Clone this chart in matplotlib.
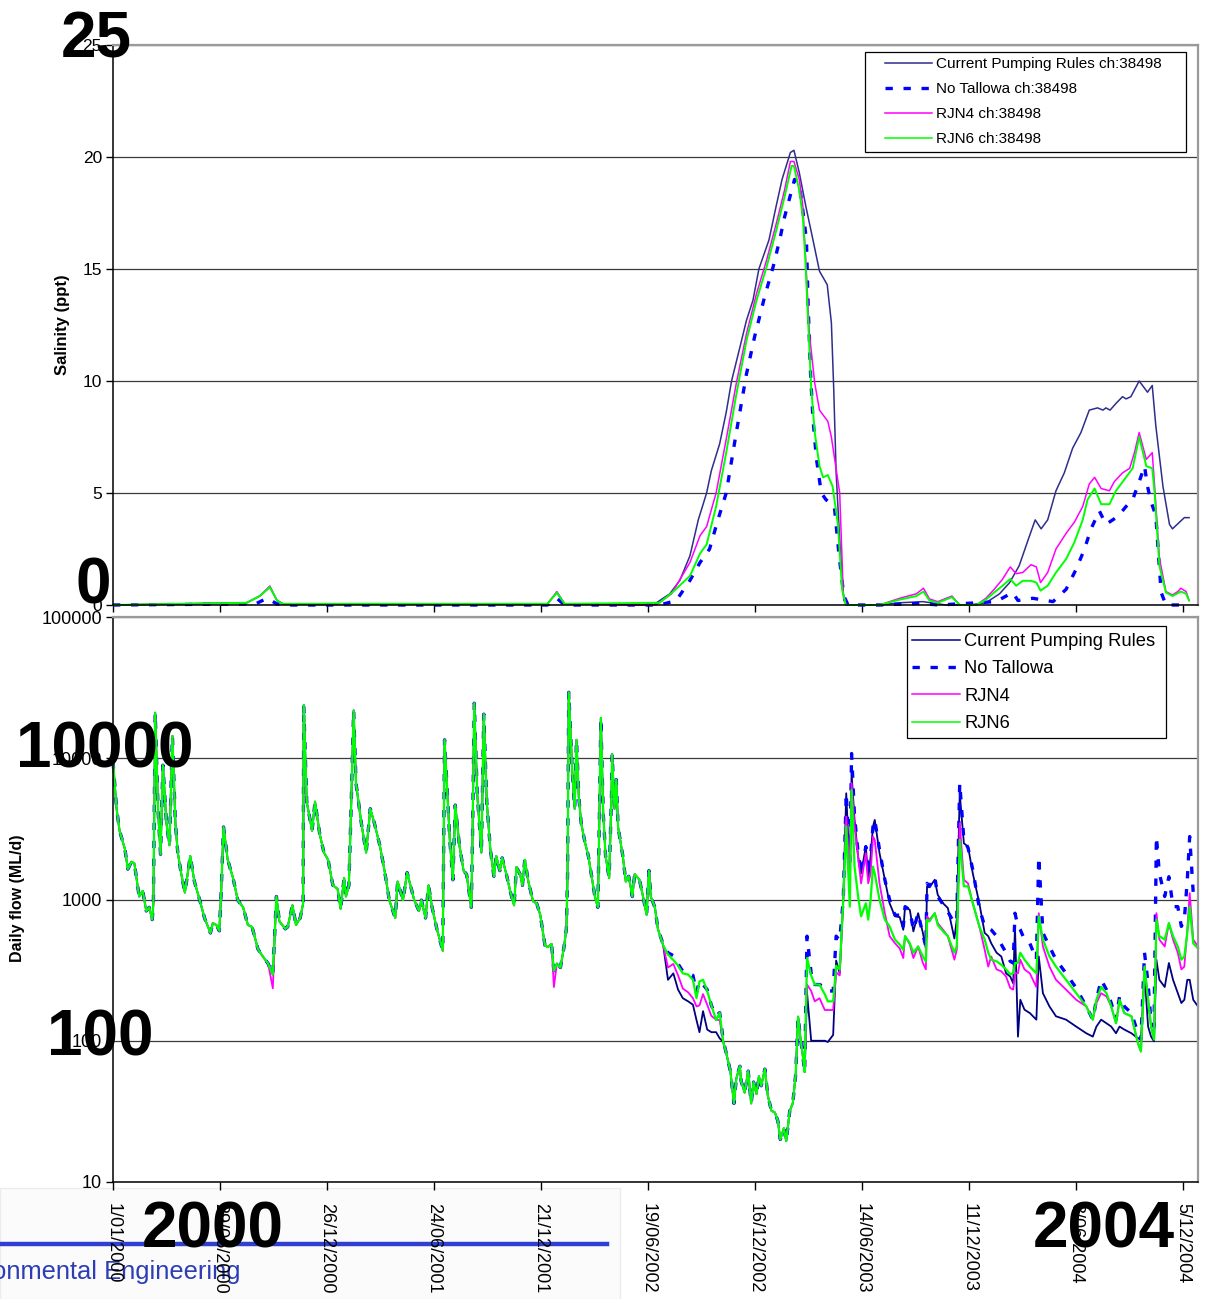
import numpy as np
import matplotlib
matplotlib.use("Agg")
import matplotlib.pyplot as plt
from matplotlib.lines import Line2D
from matplotlib.patches import Rectangle

plt.rcParams["font.family"] = ["Liberation Sans", "DejaVu Sans"]

W, H, DPI = 1208, 1299, 100

# ---- x axis (days since 1/01/2000) ----
tick_labels = ["1/01/2000", "29/06/2000", "26/12/2000", "24/06/2001", "21/12/2001",
               "19/06/2002", "16/12/2002", "14/06/2003", "11/12/2003", "8/06/2004",
               "5/12/2004"]

# ---- salinity (ppt) at ch:38498 ----
sal_days_cur = [0, 225, 247, 264, 276, 286, 731, 747, 760, 909, 937, 954, 971, 985, 999,
                1007, 1021, 1032, 1041, 1055, 1066, 1077, 1087, 1104, 1116, 1126, 1140,
                1146, 1155, 1166, 1178, 1189, 1202, 1209, 1213, 1217, 1223, 1230, 1237,
                1290, 1324, 1363, 1402, 1441, 1469, 1492, 1509, 1525, 1540, 1552, 1562,
                1573, 1587, 1601, 1615, 1629, 1643, 1657, 1666, 1671, 1678, 1688, 1699,
                1705, 1713, 1727, 1741, 1749, 1755, 1767, 1778, 1783, 1795, 1803, 1811]
sal_cur = [0, 0.1, 0.4, 0.8, 0.2, 0.05, 0.05, 0.55, 0.05, 0, 0.5, 1.1, 2.2, 3.8, 5.0,
           6.0, 7.2, 8.6, 10.0, 11.5, 12.7, 13.6, 15.0, 16.3, 17.8, 19.0, 20.2,
           20.3, 19.3, 17.8, 16.3, 14.9, 14.3, 12.6, 9.6, 5.9, 2.9, 0.2, 0,
           0, 0.1, 0.15, 0, 0, 0.1, 0.5, 1.0, 1.75, 2.9, 3.8, 3.4,
           3.8, 5.1, 5.9, 7.0, 7.7, 8.7, 8.8, 8.7, 8.8, 8.7, 9.0, 9.3,
           9.2, 9.3, 10.0, 9.5, 9.8, 8.0, 5.3, 3.6, 3.4, 3.7, 3.9, 3.9]

sal_days_not = [0, 240, 259, 276, 290, 731, 747, 760, 920, 948, 971, 988, 1004, 1018,
                1032, 1049, 1066, 1080, 1097, 1111, 1122, 1130, 1139, 1147, 1155, 1161,
                1167, 1170, 1174, 1178, 1184, 1192, 1200, 1214, 1222, 1230, 1237,
                1290, 1357, 1391, 1486, 1514, 1523, 1548, 1582, 1604, 1621, 1635, 1646,
                1660, 1671, 1691, 1705, 1716, 1727, 1736, 1741, 1747, 1755, 1760, 1764,
                1772, 1800]
sal_not = [0, 0.05, 0.3, 0.05, 0, 0, 0.3, 0, 0, 0.2, 1.1, 1.9, 2.5, 3.8,
           5.0, 7.7, 10.3, 12.0, 13.8, 15.1, 16.3, 17.3, 18.2, 19.0, 18.8, 17.6,
           16.3, 13.3, 10.3, 8.3, 6.5, 5.0, 4.7, 4.4, 2.2, 0.4, 0,
           0, 0.07, 0, 0.15, 0.56, 0.2, 0.3, 0.15, 0.7, 1.6, 2.5, 3.4,
           4.2, 3.6, 3.95, 4.4, 4.7, 5.5, 6.2, 5.3, 4.6, 4.0, 2.05, 0.56,
           0, 0]

sal_days_rjn4 = [0, 225, 247, 264, 276, 286, 731, 747, 760, 914, 940, 971, 988, 999,
                 1015, 1032, 1049, 1066, 1083, 1100, 1116, 1130, 1140, 1146, 1155, 1161,
                 1167, 1172, 1181, 1189, 1203, 1209, 1223, 1229, 1234,
                 1290, 1324, 1352, 1364, 1374, 1388, 1412, 1425, 1453, 1469, 1483, 1497,
                 1510, 1520, 1531, 1545, 1554, 1561, 1573, 1587, 1604, 1618, 1632, 1643,
                 1652, 1663, 1677, 1685, 1699, 1711, 1719, 1727, 1739, 1749, 1753, 1761,
                 1772, 1783, 1792, 1797, 1806, 1811]
sal_rjn4 = [0, 0.1, 0.4, 0.85, 0.2, 0.05, 0.05, 0.6, 0.05, 0, 0.5, 1.9, 3.1, 3.5,
            5.0, 7.4, 9.9, 12.1, 13.9, 15.4, 17.0, 18.5, 19.8, 19.8, 19.0, 17.8,
            14.8, 12.1, 9.9, 8.7, 8.2, 7.5, 5.0, 0.5, 0,
            0, 0.3, 0.5, 0.75, 0.27, 0.15, 0.4, 0, 0, 0.3, 0.7, 1.15,
            1.7, 1.4, 1.45, 1.8, 1.7, 1.0, 1.45, 2.5, 3.2, 3.7, 4.4, 5.4,
            5.7, 5.2, 5.1, 5.5, 5.9, 6.1, 6.8, 7.7, 6.5, 6.8, 5.3, 2.1,
            0.6, 0.45, 0.6, 0.75, 0.6, 0.2]

sal_days_rjn6 = [0, 225, 247, 264, 276, 286, 731, 747, 760, 920, 943, 971, 988, 999,
                 1015, 1032, 1049, 1066, 1083, 1100, 1116, 1130, 1142, 1146, 1155, 1161,
                 1165, 1170, 1175, 1181, 1189, 1195, 1203, 1211, 1220, 1227, 1233,
                 1290, 1324, 1352, 1364, 1374, 1388, 1412, 1425, 1453, 1469, 1483, 1497,
                 1510, 1520, 1531, 1545, 1554, 1561, 1573, 1587, 1604, 1618, 1632, 1640,
                 1652, 1663, 1677, 1688, 1702, 1716, 1727, 1739, 1749, 1753, 1761,
                 1772, 1783, 1797, 1806, 1811]
sal_rjn6 = [0, 0.1, 0.4, 0.8, 0.2, 0.05, 0.05, 0.55, 0.05, 0.1, 0.6, 1.3, 2.3, 2.7,
            4.4, 6.8, 9.4, 11.8, 13.6, 15.1, 16.7, 18.2, 19.6, 19.6, 18.5, 17.3,
            15.5, 12.6, 9.7, 7.7, 6.2, 5.7, 5.8, 5.3, 3.6, 0.7, 0,
            0, 0.24, 0.4, 0.6, 0.2, 0.1, 0.35, 0, 0, 0.24, 0.56, 0.86,
            1.16, 0.86, 1.08, 1.08, 1.0, 0.64, 0.86, 1.45, 2.05, 2.8, 3.8, 4.7,
            5.2, 4.5, 4.5, 5.1, 5.6, 6.1, 7.5, 6.2, 6.1, 5.0, 1.75,
            0.56, 0.4, 0.6, 0.5, 0.2]

# ---- daily flow (ML/d) ----
flow_days_early = [0, 6, 11, 20, 25, 31, 36, 44, 50, 56, 61, 66, 68, 71, 76, 80, 84, 90, 95,
                   100, 105, 109, 115, 121, 130, 137, 146, 154, 164, 168, 174, 179, 182, 186,
                   193, 202, 210, 219, 227, 234, 244, 252, 261, 269, 275, 280, 290, 294, 302,
                   308, 315, 320, 321, 326, 335, 340, 348, 355, 362, 370, 378, 383, 389, 392,
                   397, 401, 405, 409, 418, 426, 433, 440, 449, 457, 465, 475, 479, 488, 495,
                   502, 507, 515, 519, 526, 531, 537, 545, 555, 558, 564, 567, 572, 576, 583,
                   590, 595, 603, 605, 608, 613, 620, 624, 629, 635, 641, 645, 651, 655, 662,
                   669, 675, 679, 685, 689, 693, 699, 707, 713, 719, 727, 732, 738, 742, 747,
                   753, 759, 763, 765, 767, 773, 777, 780, 784, 788, 794, 800, 805, 811, 816,
                   819, 821, 825, 829, 835, 839, 840, 844, 847, 850, 858, 863, 868, 874, 878,
                   886, 892, 898, 902, 905, 912, 917]
flow_early = [9500, 4400, 3070, 2280, 1640, 1850, 1800, 1050, 1150, 830, 880, 720, 940, 21000,
              4130, 2090, 8930, 3460, 2420, 14400, 3460, 2150, 1510, 1120, 2030, 1340, 990,
              740, 580, 680, 660, 600, 1120, 3260, 1910, 1420, 990, 880, 660, 640, 445, 396,
              352, 294, 1050, 700, 620, 640, 910, 660, 740, 940, 23800, 4930, 3070, 4930,
              2890, 2150, 1910, 1260, 1190, 860, 1420, 1050, 1260, 4930, 21800, 6640, 3460,
              2150, 4390, 3460, 2420, 1600, 990, 740, 1340, 990, 1550, 1190, 990, 830, 990,
              740, 1260, 880, 620, 434, 13500, 4390, 2570, 1380, 4660, 2420, 1600, 1510, 880,
              2730, 24500, 5560, 2150, 20500, 4930, 2280, 1460, 2030, 1600, 1970, 1510, 1120,
              910, 1700, 1510, 1260, 1910, 1340, 970, 940, 780, 473, 460, 485, 313, 352, 330,
              460, 620, 1510, 29300, 7940, 4390, 13500, 5240, 3460, 2570, 2030, 1510, 1050,
              880, 4930, 19300, 4130, 2030, 1420, 5560, 10700, 4390, 7050, 3260, 2030, 1340,
              1460, 1050, 1510, 1380, 1050, 780, 1600, 1050, 880, 620]
flow_early_rjn4 = [9500, 4400, 3070, 2280, 1640, 1850, 1800, 1050, 1150, 830, 880, 720, 940, 21000,
                   4130, 2090, 8930, 3460, 2420, 14400, 3460, 2150, 1510, 1120, 2030, 1340, 990,
                   740, 580, 680, 660, 600, 1120, 3260, 1910, 1420, 990, 880, 660, 640, 445, 396,
                   352, 235, 1050, 700, 620, 640, 910, 660, 740, 940, 23800, 4930, 3070, 4930,
                   2890, 2150, 1910, 1260, 1190, 860, 1420, 1050, 1260, 4930, 21800, 6640, 3460,
                   2150, 4390, 3460, 2420, 1600, 990, 740, 1340, 990, 1550, 1190, 990, 830, 990,
                   740, 1260, 880, 620, 434, 13500, 4390, 2570, 1380, 4660, 2420, 1600, 1510, 880,
                   2730, 24500, 5560, 2150, 20500, 4930, 2280, 1460, 2030, 1600, 1970, 1510, 1120,
                   910, 1700, 1510, 1260, 1910, 1340, 970, 940, 780, 473, 460, 485, 240, 352, 330,
                   460, 620, 1510, 29300, 7940, 4390, 13500, 5240, 3460, 2570, 2030, 1510, 1050,
                   880, 4930, 19300, 4130, 2030, 1420, 5560, 10700, 4390, 7050, 3260, 2030, 1340,
                   1460, 1050, 1510, 1380, 1050, 780, 1600, 1050, 880, 620]

flow_days_late = [926, 934, 943, 951, 959, 968, 976, 982, 987, 993, 1000, 1007, 1015, 1021, 1027,
                  1032, 1039, 1045, 1049, 1055, 1057, 1063, 1069, 1074, 1078, 1083, 1087, 1091,
                  1097, 1102, 1108, 1114, 1119, 1123, 1129, 1133, 1139, 1144, 1149, 1153, 1157,
                  1161, 1164, 1168, 1175, 1181, 1189, 1198, 1203, 1212, 1217, 1223,
                  1229, 1234, 1240, 1243, 1248, 1254, 1259, 1267, 1271, 1275, 1279, 1282, 1290,
                  1299, 1307, 1316, 1324, 1330, 1333, 1341, 1347, 1355, 1363, 1368, 1370, 1374,
                  1383, 1388, 1397, 1405, 1416, 1420, 1425, 1432, 1439, 1447, 1458, 1467, 1473,
                  1478, 1487, 1495, 1503, 1510, 1515, 1518, 1523, 1527, 1534, 1543, 1554, 1558,
                  1565, 1576, 1587, 1604, 1621, 1638, 1649, 1655, 1663, 1672, 1680, 1688, 1694,
                  1702, 1714, 1725, 1730, 1736, 1742, 1747, 1752, 1756, 1761, 1770, 1777, 1784,
                  1792, 1798, 1803, 1808, 1812, 1818, 1826]
flow_late_cur = [473, 270, 300, 230, 200, 190, 180, 140, 115, 162, 120, 115, 115, 104, 98,
                 82, 61, 36, 54, 66, 52, 43, 61, 36, 51, 42, 56, 48,
                 63, 41, 32, 31, 27, 20, 24, 19.5, 32, 36, 58, 148, 104,
                 78, 60, 220, 100, 100, 100, 100, 98, 110, 370, 300,
                 995, 5650, 1530, 7830, 3660, 2010, 1530, 2370, 1380, 2010, 3290, 3660, 2130,
                 1380, 940, 760, 750, 610, 890, 845, 595, 800, 580, 450, 1240, 1220,
                 1380, 1080, 940, 870, 530, 720, 5650, 2500, 2370, 1530, 940, 580, 550,
                 490, 420, 395, 300, 285, 255, 645, 107, 195, 166, 157, 141, 395,
                 217, 175, 149, 141, 126, 113, 107, 126, 141, 133, 126, 113, 126,
                 120, 113, 104, 102, 300, 126, 107, 99, 375, 270, 240, 355, 270,
                 217, 185, 195, 270, 270, 195, 175]
flow_late_not = [480, 420, 400, 350, 310, 300, 290, 220, 265, 250, 230, 178, 150, 158, 100,
                 82, 61, 36, 54, 66, 52, 43, 61, 36, 51, 42, 56, 48,
                 63, 41, 32, 31, 27, 20, 24, 19.5, 32, 36, 58, 148, 104,
                 78, 60, 550, 300, 250, 250, 240, 225, 225, 550, 515,
                 1000, 5650, 1710, 10800, 3860, 2130, 1530, 2370, 1530, 2010, 3290, 3660, 2250,
                 1380, 995, 775, 775, 645, 890, 845, 610, 800, 565, 465, 1300, 1240,
                 1450, 1050, 920, 820, 680, 720, 6660, 2640, 2320, 1620, 870, 645, 630,
                 610, 550, 480, 420, 365, 355, 800, 645, 610, 520, 490, 375, 2010,
                 580, 465, 375, 300, 236, 175, 141, 195, 270, 230, 185, 141, 206,
                 175, 157, 113, 102, 420, 255, 133, 126, 2790, 1530, 1050, 1450, 890,
                 890, 645, 720, 1380, 2790, 1110, 1150]
flow_late_rjn4 = [473, 330, 350, 290, 234, 220, 200, 175, 178, 214, 180, 150, 141, 140, 98,
                  82, 61, 36, 54, 66, 52, 43, 61, 36, 51, 42, 56, 48,
                  63, 41, 32, 31, 27, 20, 24, 19.5, 32, 36, 58, 148, 104,
                  78, 60, 250, 225, 190, 200, 165, 165, 165, 305, 290,
                  995, 3860, 1530, 6660, 3290, 2010, 1300, 2130, 1300, 1530, 2790, 2640, 1300,
                  800, 550, 490, 450, 385, 550, 480, 385, 465, 355, 320, 760, 720,
                  800, 680, 610, 550, 375, 440, 3470, 1380, 1300, 940, 645, 440, 335,
                  395, 320, 310, 285, 236, 230, 300, 300, 375, 320, 300, 240, 800,
                  465, 335, 270, 230, 195, 175, 141, 185, 217, 206, 175, 133, 195,
                  157, 149, 96, 84, 335, 195, 126, 102, 800, 520, 465, 680, 520,
                  420, 320, 335, 610, 1110, 520, 465]
flow_late_rjn6 = [473, 408, 373, 340, 300, 294, 270, 200, 263, 270, 225, 178, 140, 158, 98,
                  82, 61, 36, 54, 66, 52, 43, 61, 36, 51, 42, 56, 48,
                  63, 41, 32, 31, 27, 20, 24, 19.5, 32, 36, 58, 148, 104,
                  78, 60, 385, 290, 250, 250, 213, 190, 190, 340, 320,
                  995, 3290, 890, 5970, 1710, 1050, 760, 940, 720, 995, 1710, 1530, 995,
                  720, 645, 520, 480, 440, 550, 490, 420, 465, 395, 365, 720, 700,
                  800, 660, 595, 550, 420, 465, 2640, 1240, 1240, 940, 645, 520, 420,
                  375, 365, 345, 320, 295, 300, 355, 355, 420, 375, 335, 300, 760,
                  520, 395, 335, 270, 217, 175, 141, 195, 240, 217, 175, 133, 195,
                  157, 149, 96, 84, 335, 195, 126, 102, 720, 550, 520, 680, 550,
                  465, 375, 395, 580, 890, 490, 450]

flow_days = flow_days_early + flow_days_late
flow_cur = flow_early + flow_late_cur
flow_not = flow_early + flow_late_not
flow_rjn4 = flow_early_rjn4 + flow_late_rjn4
flow_rjn6 = flow_early + flow_late_rjn6


def fx(px):
    return px / W


def fy(py):
    return 1 - py / H


NAVY_TOP, NAVY_BOT = "#2e2e8c", "#000080"
BLUE, MAGENTA, GREEN = "#0000ff", "#ff00ff", "#00ff00"
DASH = (0, (2.2, 3.2))
GRID = "#3a3a3a"
EDGE = "#9a9a9a"

fig = plt.figure(figsize=(W / DPI, H / DPI), dpi=DPI)
ax1 = fig.add_axes([fx(113), fy(605), (1198 - 113) / W, (605 - 45) / H])
ax2 = fig.add_axes([fx(113), fy(1182), (1198 - 113) / W, (1182 - 617) / H])

tick_days = np.arange(0, 1801, 180)

# Salinity panel
ax1.plot(sal_days_cur, sal_cur, color=NAVY_TOP, lw=1.1, clip_on=False)
ax1.plot(sal_days_not, sal_not, color=BLUE, lw=2.4, ls=DASH, clip_on=False)
ax1.plot(sal_days_rjn4, sal_rjn4, color=MAGENTA, lw=1.1, clip_on=False)
ax1.plot(sal_days_rjn6, sal_rjn6, color=GREEN, lw=1.4, clip_on=False)
ax1.set_xlim(0, 1826)
ax1.set_ylim(0, 25)
ax1.set_yticks([0, 5, 10, 15, 20, 25])
ax1.set_xticks(tick_days)
ax1.tick_params(axis="x", labelbottom=False, length=5, width=1)
ax1.tick_params(axis="y", labelsize=12.5, length=5, width=1, pad=3)
ax1.grid(axis="y", color=GRID, lw=0.9)

# Flow panel
ax2.plot(flow_days, flow_cur, color=NAVY_BOT, lw=1.3, clip_on=False)
ax2.plot(flow_days, flow_not, color=BLUE, lw=2.4, ls=DASH, clip_on=False)
ax2.plot(flow_days, flow_rjn4, color=MAGENTA, lw=1.3, clip_on=False)
ax2.plot(flow_days, flow_rjn6, color=GREEN, lw=1.6, clip_on=False)
ax2.set_yscale("log")
ax2.set_xlim(0, 1826)
ax2.set_ylim(10, 100000)
ax2.set_yticks([10, 100, 1000, 10000, 100000])
ax2.set_yticklabels(["10", "100", "1000", "10000", "100000"])
ax2.yaxis.set_minor_locator(matplotlib.ticker.NullLocator())
ax2.set_xticks(tick_days)
ax2.set_xticklabels(tick_labels, rotation=-90, va="top", ha="center")
ax2.tick_params(axis="x", labelsize=13, length=6, width=1, pad=9)
ax2.tick_params(axis="y", labelsize=13, length=5, width=1, pad=3)
ax2.grid(axis="y", color=GRID, lw=0.9)

for ax in (ax1, ax2):
    ax.set_axisbelow(True)
    for side in ("left", "bottom"):
        ax.spines[side].set_color("black")
        ax.spines[side].set_linewidth(1.1)
    for side in ("top", "right"):
        ax.spines[side].set_color(EDGE)
        ax.spines[side].set_linewidth(1.6)

fig.text(fx(63), fy(325), "Salinity (ppt)", rotation=90, ha="center", va="center",
         fontsize=12, fontweight="bold")
fig.text(fx(18), fy(898), "Daily flow (ML/d)", rotation=90, ha="center", va="center",
         fontsize=11.5, fontweight="bold")

# Legends (frames drawn as figure rectangles)
fig.add_artist(Rectangle((fx(865), fy(152)), (1186 - 865) / W, (152 - 52) / H,
                         transform=fig.transFigure, facecolor="white", edgecolor="black",
                         lw=0.9, zorder=3))
fig.add_artist(Rectangle((fx(907), fy(738)), (1166 - 907) / W, (738 - 626) / H,
                         transform=fig.transFigure, facecolor="white", edgecolor="black",
                         lw=0.9, zorder=3))


def handles(navy):
    return [Line2D([], [], color=navy, lw=1.1),
            Line2D([], [], color=BLUE, lw=2.4, ls=DASH),
            Line2D([], [], color=MAGENTA, lw=1.1),
            Line2D([], [], color=GREEN, lw=1.1)]


leg1 = fig.legend(handles(NAVY_TOP),
                  ["Current Pumping Rules ch:38498", "No Tallowa ch:38498",
                   "RJN4 ch:38498", "RJN6 ch:38498"],
                  loc="upper left", bbox_to_anchor=(fx(885), fy(57)), frameon=False,
                  fontsize=11, borderpad=0, borderaxespad=0, handlelength=3.1,
                  handletextpad=0.25, labelspacing=0.73)
leg1.set_zorder(4)
leg2 = fig.legend(handles(NAVY_BOT),
                  ["Current Pumping Rules", "No Tallowa", "RJN4", "RJN6"],
                  loc="upper left", bbox_to_anchor=(fx(912), fy(633)), frameon=False,
                  fontsize=13.2, borderpad=0, borderaxespad=0, handlelength=2.6,
                  handletextpad=0.25, labelspacing=0.57)
leg2.set_zorder(4)

# Logo strip at the bottom left
fig.add_artist(Rectangle((0, fy(1299)), fx(620), (1299 - 1188) / H, transform=fig.transFigure,
                         facecolor="#fbfbfb", edgecolor="#ececec", lw=1, zorder=-1))
fig.add_artist(Line2D([0, fx(607)], [fy(1244), fy(1244)], transform=fig.transFigure,
                      color="#2f3fd0", lw=3.2, zorder=-0.5))
fig.text(fx(241), fy(1279), "Environmental Engineering", ha="right", va="baseline",
         fontsize=18.4, color="#2c3db5", zorder=-0.5)

# Large overlaid labels
big = dict(fontsize=46, fontweight="bold", ha="center", va="baseline", zorder=10)
fig.text(fx(96), fy(58), "25", **big)
fig.text(fx(93.5), fy(604), "0", **big)
fig.text(fx(105), fy(768), "10000", **big)
fig.text(fx(100), fy(1056), "100", **big)
fig.text(fx(213), fy(1248), "2000", **big)
fig.text(fx(1104), fy(1248), "2004", **big)

fig.savefig("out.png", dpi=DPI)
